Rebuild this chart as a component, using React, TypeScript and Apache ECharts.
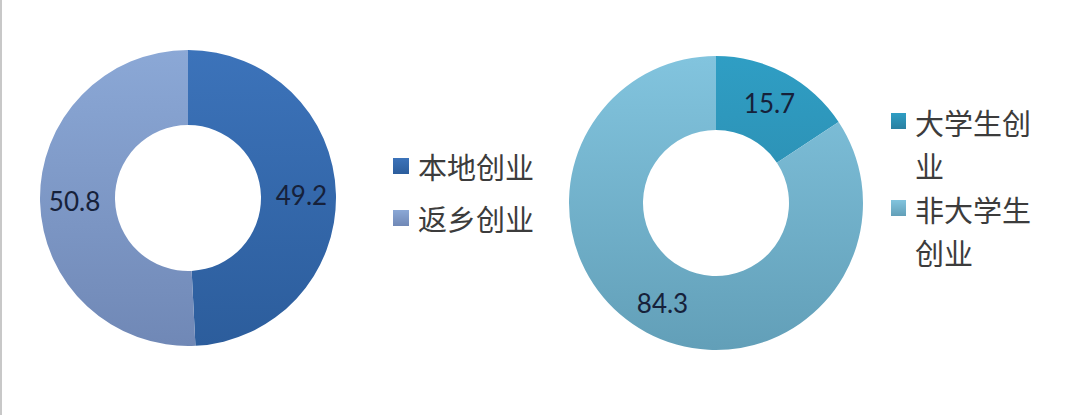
import React, { useEffect, useRef } from 'react';
import * as echarts from 'echarts';

// 本地 vs 返乡
const localNames = ['本地创业', '返乡创业'];
const localValues = [49.2, 50.8];
const localColors = [
  ['#3c73ba', '#2c5d9c'],
  ['#8ba8d6', '#7088b6'],
];

// 大学生 vs 非大学生
const studentNames = ['大学生创业', '非大学生创业'];
const studentValues = [15.7, 84.3];
const studentColors = [
  ['#2f9ec4', '#2a80a1'],
  ['#82c4de', '#629fb8'],
];

const grad = (pair: string[], y0: number, y1: number) =>
  new echarts.graphic.LinearGradient(0, y0, 0, y1, [
    { offset: 0, color: pair[0] },
    { offset: 1, color: pair[1] },
  ], true);

const wrap = (name: string) => (name.length > 4 ? name.slice(0, 4) + '\n' + name.slice(4) : name);

export default function App() {
  const chartRef = useRef<HTMLDivElement>(null);

  useEffect(() => {
    if (!chartRef.current) return;
    const chart = echarts.init(chartRef.current, null, { renderer: 'svg' });

    const labelStyle = {
      show: true,
      position: 'inside' as const,
      formatter: '{c}',
      fontFamily: 'Lato',
      fontSize: 26,
      color: '#16213a',
    };

    const legendFont = '"Noto Sans CJK SC", sans-serif';

    // legend items built by hand so the marker sits on the first line
    const localLegend = localNames.map((name, i) => ({
      type: 'group',
      children: [
        { type: 'rect', shape: { x: 393, y: 158 + i * 52, width: 16, height: 16 }, style: { fill: grad(localColors[i], 158 + i * 52, 174 + i * 52) } },
        {
          type: 'text', x: 418, y: 166 + i * 52,
          style: { text: name, fontFamily: legendFont, fontSize: 29, fill: '#3c3c3c', verticalAlign: 'middle' },
        },
      ],
    }));

    const studentTops = [100, 187];
    const studentLegend = studentNames.map((name, i) => ({
      type: 'group',
      children: [
        { type: 'rect', shape: { x: 891, y: studentTops[i] + 13, width: 15, height: 16 }, style: { fill: grad(studentColors[i], studentTops[i] + 13, studentTops[i] + 29) } },
        {
          type: 'text', x: 915, y: studentTops[i],
          style: { text: wrap(name), fontFamily: legendFont, fontSize: 29, lineHeight: 43, fill: '#3c3c3c', verticalAlign: 'top' },
        },
      ],
    }));

    chart.setOption({
      animation: false,
      backgroundColor: '#ffffff',
      graphic: [
        { type: 'line', shape: { x1: 1, y1: 0, x2: 1, y2: 415 }, style: { stroke: '#c8c8c8', lineWidth: 2 } },
        ...localLegend,
        ...studentLegend,
      ],
      series: [
        {
          type: 'pie',
          center: [188, 198],
          radius: [73, 148],
          startAngle: 90,
          clockwise: true,
          silent: true,
          label: labelStyle,
          labelLine: { show: false },
          data: localNames.map((name, i) => ({
            name,
            value: localValues[i],
            itemStyle: { color: grad(localColors[i], 50, 346) },
          })),
        },
        {
          type: 'pie',
          center: [716, 203],
          radius: [73, 147],
          startAngle: 90,
          clockwise: true,
          silent: true,
          label: labelStyle,
          labelLine: { show: false },
          data: studentNames.map((name, i) => ({
            name,
            value: studentValues[i],
            itemStyle: { color: grad(studentColors[i], 56, 350) },
          })),
        },
      ],
    });

    return () => {
      chart.dispose();
    };
  }, []);

  return (
    <div
      ref={chartRef}
      style={{ position: 'fixed', left: 0, top: 0, width: '1069px', height: '415px' }}
    />
  );
}
